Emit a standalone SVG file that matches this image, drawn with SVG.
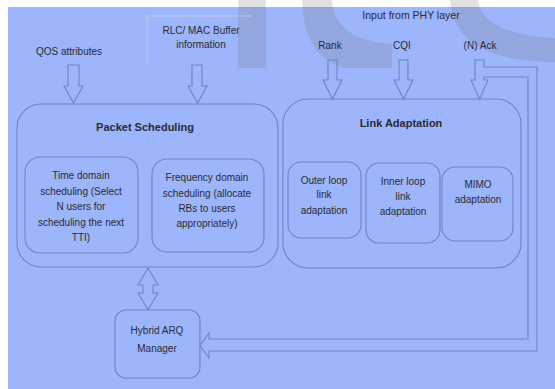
<svg xmlns="http://www.w3.org/2000/svg" width="555" height="389" viewBox="0 0 555 389">
<style>
.ln{fill:none;stroke:#6d84c6;stroke-width:1.1}
.box{fill:none;stroke:#6d84c6;stroke-width:1.1}
.t{font-family:"Liberation Sans",Arial,sans-serif;font-size:10px;fill:#2a2a33;text-anchor:middle}
.b{font-weight:bold;font-size:11px}
.wm{fill:#6e6e6e;opacity:0.2}
</style>
<rect x="0" y="0" width="555" height="389" fill="#ffffff"/>
<rect x="8" y="7" width="547" height="382" fill="#9db5fa"/>
<g id="watermark">
<rect class="wm" x="238" y="0" width="28" height="68"/>
<path class="wm" d="M302,0 L332,0 Q334,40 392,44 L392,68 L345,68 Q304,58 302,0 Z"/>
<path class="wm" d="M450,0 L478,0 Q482,34 555,38 L555,62 Q455,62 450,0 Z"/>
<path d="M147,65 L147,16 L252,16" fill="none" stroke="#c3cbe6" stroke-width="0.9"/>
</g>
<g id="labels">
<text class="t" x="69" y="55">QOS attributes</text>
<text class="t" x="201" y="34">RLC/ MAC Buffer</text>
<text class="t" x="201" y="48">information</text>
<text class="t" x="411" y="19" style="font-size:10.5px">Input from PHY layer</text>
<text class="t" x="330" y="49">Rank</text>
<text class="t" x="402" y="49">CQI</text>
<text class="t" x="480" y="49">(N) Ack</text>
</g>
<g id="packet-scheduling">
<rect class="box" x="17" y="104" width="261" height="163" rx="24"/>
<text class="t b" x="145" y="131">Packet Scheduling</text>
</g>
<g id="time-domain">
<rect class="box" x="25" y="157" width="113" height="96" rx="15"/>
<text class="t" x="81" y="179">Time domain</text>
<text class="t" x="81" y="194.5">scheduling (Select</text>
<text class="t" x="81" y="210">N users for</text>
<text class="t" x="81" y="225.5">scheduling the next</text>
<text class="t" x="81" y="241">TTI)</text>
</g>
<g id="frequency-domain">
<rect class="box" x="152" y="159" width="112" height="93" rx="15"/>
<text class="t" x="207" y="181">Frequency domain</text>
<text class="t" x="207" y="196.5">scheduling (allocate</text>
<text class="t" x="207" y="212">RBs to users</text>
<text class="t" x="207" y="227">appropriately)</text>
</g>
<g id="link-adaptation">
<rect class="box" x="283" y="99" width="238" height="169" rx="25"/>
<text class="t b" x="401" y="127">Link Adaptation</text>
</g>
<g id="outer-loop">
<rect class="box" x="288" y="162" width="73" height="76" rx="13"/>
<text class="t" x="324" y="184">Outer loop</text>
<text class="t" x="324" y="198">link</text>
<text class="t" x="324" y="214">adaptation</text>
</g>
<g id="inner-loop">
<rect class="box" x="366" y="163" width="74" height="80" rx="13"/>
<text class="t" x="403" y="185">Inner loop</text>
<text class="t" x="403" y="200">link</text>
<text class="t" x="403" y="215">adaptation</text>
</g>
<g id="mimo">
<rect class="box" x="442" y="167" width="71" height="74" rx="13"/>
<text class="t" x="478" y="188">MIMO</text>
<text class="t" x="478" y="203">adaptation</text>
</g>
<g id="harq">
<rect class="box" x="115" y="310" width="85" height="68" rx="11"/>
<text class="t" x="157" y="334">Hybrid ARQ</text>
<text class="t" x="157" y="352">Manager</text>
</g>
<g id="connectors">
<path class="ln" d="M68,65 L79,65 L79,86 L83,86 L73.5,103 L64,86 L68,86 Z"/>
<path class="ln" d="M192,65 L202,65 L202,86 L207,86 L197.5,103 L188,86 L192,86 Z"/>
<path class="ln" d="M328,60 L337,60 L337,80 L342,80 L332.5,99 L323,80 L328,80 Z"/>
<path class="ln" d="M399,60 L408,60 L408,80 L413,80 L403.5,99 L394,80 L399,80 Z"/>
<path class="ln" d="M484,60 L475,60 L475,80 L471,80 L479.5,99 L488,80 L484,80 L484,77 L528,77 L528,339 L209,339 L209,333 L200,345.5 L209,358 L209,351 L537,351 L537,67 L484,67 Z"/>
<path class="ln" d="M148,268 L158,285 L153,285 L153,293 L158,293 L148,310 L138,293 L143,293 L143,285 L138,285 Z"/>
</g>
</svg>
